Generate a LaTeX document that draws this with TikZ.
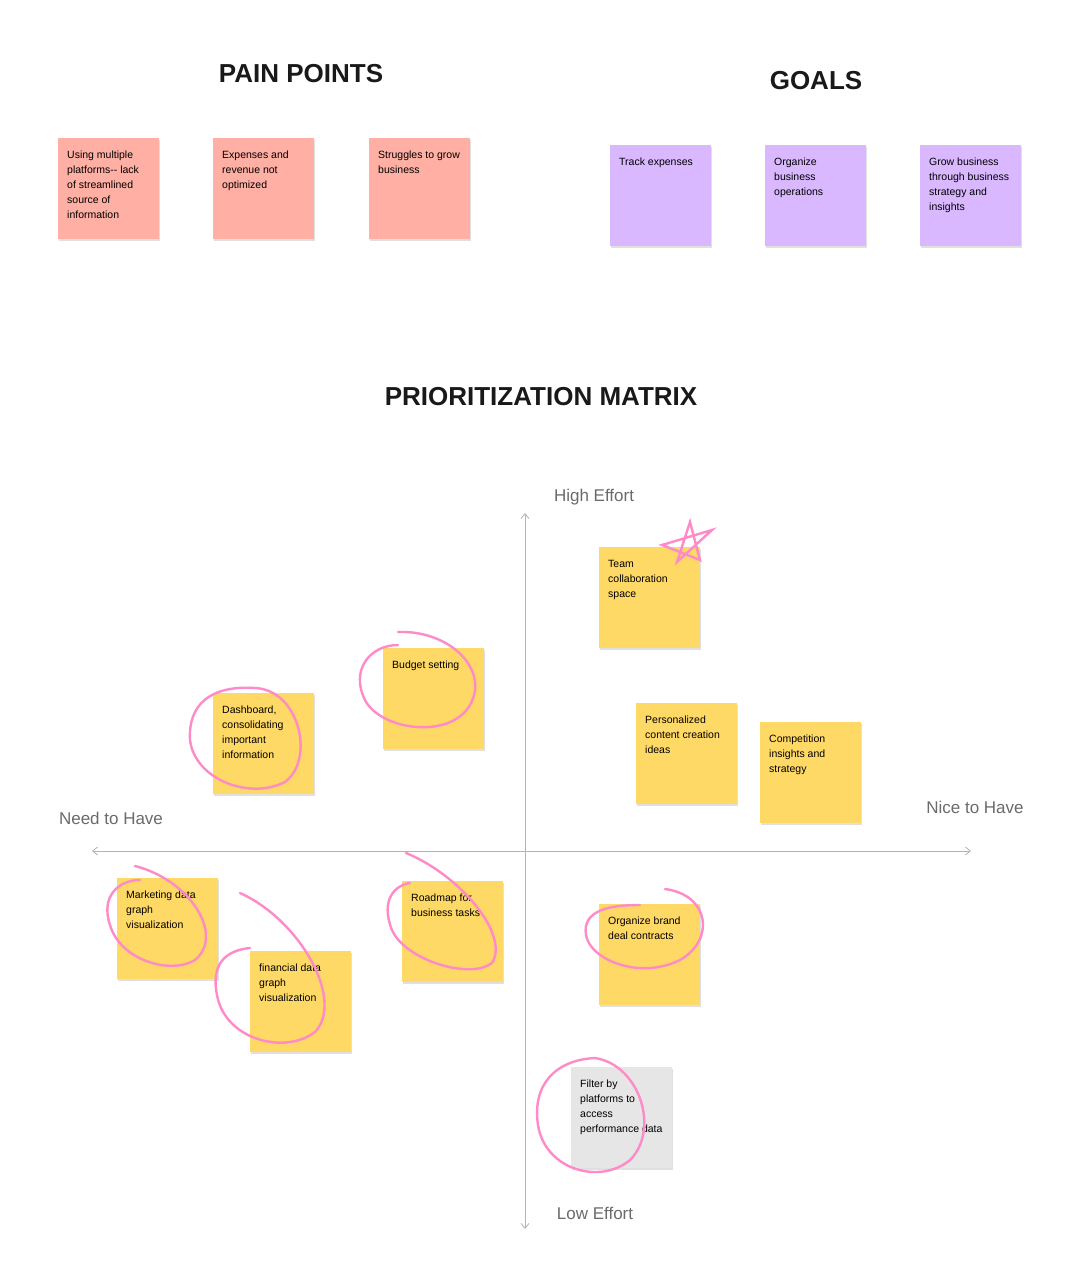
\documentclass[tikz,border=0pt]{standalone}
\usepackage{fontspec}
\setmainfont{Liberation Sans}
\usetikzlibrary{arrows.meta}
\definecolor{pain}{HTML}{FFAFA3}
\definecolor{goal}{HTML}{D9B8FF}
\definecolor{yel}{HTML}{FFD966}
\definecolor{gry}{HTML}{E6E6E6}
\definecolor{pink}{HTML}{FF8AC8}
\definecolor{axis}{HTML}{B3B3B3}
\definecolor{lbl}{HTML}{6B6B6B}
\begin{document}
\begin{tikzpicture}[x=1pt,y=-1pt,
  note/.style={anchor=north west,minimum width=101pt,minimum height=101pt,inner sep=0pt},
  ntext/.style={anchor=north west,align=left,font=\fontsize{10.5}{15}\selectfont,inner sep=0pt},
  title/.style={font=\bfseries\fontsize{26}{30}\selectfont,text=black!90},
  axlbl/.style={font=\fontsize{17}{20}\selectfont,text=lbl},
  ax/.style={axis,line width=0.8pt,-{Straight Barb[length=5pt,width=8pt]}},
  pinkmark/.style={pink,line width=2.4pt,line cap=round}]
\useasboundingbox (0,0) rectangle (1080,1284);
\fill[white] (0,0) rectangle (1080,1284);
\newcommand{\sticky}[5]{%
  \fill[black!12] (#2+1,#3+2) rectangle ++(101,101);
  \node[note,fill=#4] (#1) at (#2,#3) {};
  \node[ntext] (#1t) at (#2+9,#3+13) {#5};}
\node[title] (pp) at (301,74) {PAIN POINTS};
\node[title] (gl) at (816,81) {GOALS};
\node[title] (pm) at (541,397) {PRIORITIZATION MATRIX};
\sticky{p1}{58}{138}{pain}{Using multiple\\platforms{-}{-} lack\\of streamlined\\source of\\information}
\sticky{p2}{213}{138}{pain}{Expenses and\\revenue not\\optimized}
\sticky{p3}{369}{138}{pain}{Struggles to grow\\business}
\sticky{g1}{610}{145}{goal}{Track expenses}
\sticky{g2}{765}{145}{goal}{Organize\\business\\operations}
\sticky{g3}{920}{145}{goal}{Grow business\\through business\\strategy and\\insights}
% axes
\coordinate (c) at (525,851);
\coordinate (vt) at (525,513); \coordinate (vb) at (525,1229);
\coordinate (hl) at (92,851); \coordinate (hr) at (971,851);
\draw[ax] (c) -- (vt); \draw[ax] (c) -- (vb);
\draw[ax] (c) -- (hl); \draw[ax] (c) -- (hr);
\node[axlbl] (he) at (594,497) {High Effort};
\node[axlbl] (le) at (595,1213) {Low Effort};
\node[axlbl] (nh) at (111,818) {Need to Have};
\node[axlbl] (nc) at (975,807) {Nice to Have};
\sticky{s1}{599}{547}{yel}{Team\\collaboration\\space}
\sticky{s2}{383}{648}{yel}{Budget setting}
\sticky{s3}{213}{693}{yel}{Dashboard,\\consolidating\\important\\information}
\sticky{s4}{636}{703}{yel}{Personalized\\content creation\\ideas}
\sticky{s5}{760}{722}{yel}{Competition\\insights and\\strategy}
\sticky{s6}{117}{878}{yel}{Marketing data\\graph\\visualization}
\sticky{s7}{402}{881}{yel}{Roadmap for\\business tasks}
\sticky{s8}{250}{951}{yel}{financial data\\graph\\visualization}
\sticky{s9}{599}{904}{yel}{Organize brand\\deal contracts}
\sticky{s10}{571}{1067}{gry}{Filter by\\platforms to\\access\\performance data}
% pink marks
\draw[pinkmark] (690,522) -- (677,562) -- (712,530) -- (662,545) -- (700,560) -- cycle;
\draw[pinkmark] (398,632) .. controls (450,630) and (490,670) .. (470,705) .. controls (450,740) and (380,730) .. (365,700) .. controls (350,670) and (370,645) .. (398,645);
\draw[pinkmark] (255,688) .. controls (300,690) and (315,760) .. (285,782) .. controls (250,800) and (195,780) .. (190,740) .. controls (188,705) and (210,685) .. (255,688);
\draw[pinkmark] (135,866) .. controls (190,880) and (225,935) .. (195,960) .. controls (170,975) and (120,960) .. (110,925) .. controls (100,895) and (120,880) .. (140,880);
\draw[pinkmark] (240,893) .. controls (300,920) and (345,1000) .. (315,1032) .. controls (285,1055) and (225,1040) .. (217,995) .. controls (210,960) and (230,950) .. (250,948);
\draw[pinkmark] (406,853) .. controls (460,875) and (510,935) .. (492,963) .. controls (470,980) and (405,960) .. (392,930) .. controls (380,900) and (395,885) .. (410,883);
\draw[pinkmark] (665,889) .. controls (710,895) and (715,940) .. (680,960) .. controls (640,980) and (590,960) .. (586,935) .. controls (582,910) and (610,905) .. (640,905);
\draw[pinkmark] (595,1058) .. controls (640,1065) and (660,1130) .. (630,1160) .. controls (600,1185) and (545,1170) .. (538,1125) .. controls (532,1085) and (555,1060) .. (595,1058);
\end{tikzpicture}
\end{document}
